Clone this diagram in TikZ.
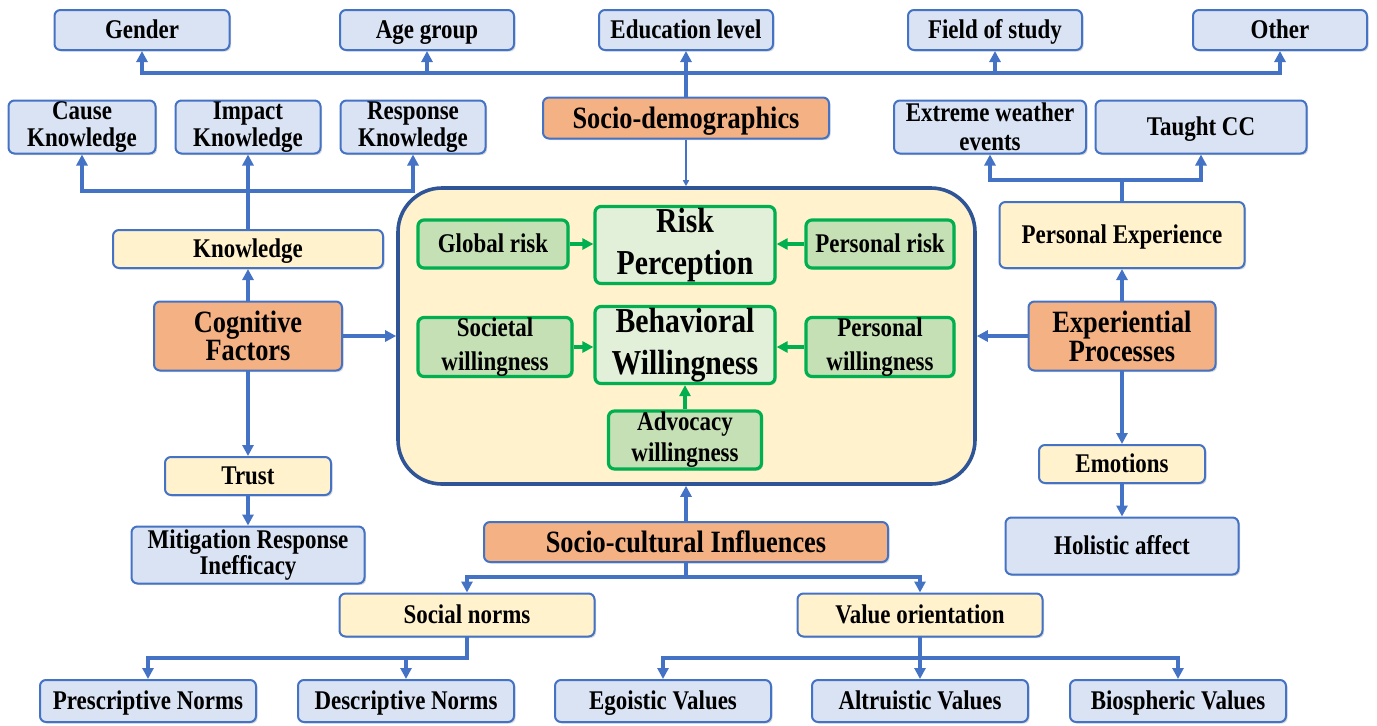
\documentclass[tikz,border=0pt]{standalone}
\usepackage{fontspec}
\setmainfont[FakeStretch=0.85]{Liberation Serif}
\usetikzlibrary{arrows.meta,shadows}
\definecolor{bfill}{HTML}{DAE3F3}
\definecolor{bline}{HTML}{4472C4}
\definecolor{cfill}{HTML}{FFF2CC}
\definecolor{ofill}{HTML}{F4B183}
\definecolor{gfill}{HTML}{C5E0B4}
\definecolor{lgfill}{HTML}{E2F0D9}
\definecolor{gline}{HTML}{00B050}
\definecolor{bigline}{HTML}{2F5597}
\definecolor{arrc}{HTML}{4472C4}
\tikzset{
  base/.style={rounded corners=3pt, align=center, inner sep=0pt, draw=bline, line width=1pt,
    font=\bfseries\fontsize{13.5}{13.5}\selectfont,
    drop shadow={shadow xshift=0.8pt, shadow yshift=-0.8pt, opacity=0.3}},
  oneline/.style={text height=8.9pt, text depth=0pt},
  bluebox/.style={base, fill=bfill},
  creambox/.style={base, fill=cfill},
  orangebox/.style={base, fill=ofill, font=\bfseries\fontsize{15.5}{14}\selectfont},
  greenbox/.style={base, fill=gfill, draw=gline, line width=1.6pt},
  corebox/.style={base, fill=lgfill, draw=gline, line width=1.6pt, font=\bfseries\fontsize{17.5}{21}\selectfont},
  sz/.style 2 args={minimum width=#1*0.5pt, minimum height=#2*0.5pt},
  conn/.style={draw=arrc, line width=1.7pt, line cap=rect},
  arr/.style={conn, -{Triangle[length=5.5pt,width=5.5pt]}},
  garr/.style={draw=gline, line width=1.6pt, -{Triangle[length=5.5pt,width=5.5pt]}},
}
\begin{document}
\begin{tikzpicture}[x=0.5pt,y=-0.5pt]
\useasboundingbox (0,0) rectangle (1377,725);

% big central box
\node[draw=bigline, fill=cfill, line width=1.8pt, rounded corners=22pt, inner sep=0pt, sz={577}{296}] (big) at (686.5,336) {};

% top row
\node[bluebox, oneline, sz={175}{40}] (gender) at (142,30) {Gender};
\node[bluebox, oneline, sz={174}{40}] (age) at (427,30) {Age group};
\node[bluebox, oneline, sz={174}{40}] (edu) at (686,30) {Education level};
\node[bluebox, oneline, sz={174}{40}] (field) at (995,30) {Field of study};
\node[bluebox, oneline, sz={174}{40}] (other) at (1280,30) {Other};
\node[orangebox, oneline, text height=10.2pt, sz={286}{41}] (sd) at (686,118) {Socio-demographics};

% knowledge branch
\node[bluebox, sz={147}{53}] (cause) at (82,127) {Cause\\Knowledge};
\node[bluebox, sz={145}{53}] (impact) at (248,127) {Impact\\Knowledge};
\node[bluebox, sz={145}{53}] (resp) at (413,127) {Response\\Knowledge};
\node[creambox, oneline, sz={270}{38}] (know) at (248,249) {Knowledge};
\node[orangebox, sz={188}{69}] (cog) at (248,336) {Cognitive\\Factors};
\node[creambox, oneline, sz={166}{38}] (trust) at (248,476) {Trust};
\node[bluebox, sz={233}{57}, font=\bfseries\fontsize{13.5}{13}\selectfont] (mit) at (248,555) {Mitigation Response\\Inefficacy};

% inner nodes
\node[greenbox, oneline, sz={150}{48}] (glob) at (493,244) {Global risk};
\node[corebox, sz={180}{77}] (rp) at (685,245) {Risk\\Perception};
\node[greenbox, oneline, sz={148}{48}] (prisk) at (880,244) {Personal risk};
\node[greenbox, sz={154}{59}, font=\bfseries\fontsize{13.5}{17}\selectfont] (soc) at (495,347) {Societal\\willingness};
\node[corebox, sz={180}{77}] (bw) at (685,345) {Behavioral\\Willingness};
\node[greenbox, sz={148}{59}, font=\bfseries\fontsize{13.5}{17}\selectfont] (pwill) at (880,347) {Personal\\willingness};
\node[greenbox, sz={153}{58}, font=\bfseries\fontsize{13.5}{15.5}\selectfont] (adv) at (685,440) {Advocacy\\willingness};

% right branch
\node[bluebox, sz={192}{53}, font=\bfseries\fontsize{13.5}{14.5}\selectfont] (ext) at (990,127) {Extreme weather\\events};
\node[bluebox, oneline, sz={211}{53}] (taught) at (1201,127) {Taught CC};
\node[creambox, oneline, sz={245}{66}] (pexp) at (1122,235) {Personal Experience};
\node[orangebox, sz={187}{69}, font=\bfseries\fontsize{15.5}{14.5}\selectfont] (exp) at (1122,336) {Experiential\\Processes};
\node[creambox, oneline, sz={166}{38}] (emo) at (1122,464) {Emotions};
\node[bluebox, oneline, sz={233}{57}] (hol) at (1122,546) {Holistic affect};

% bottom
\node[orangebox, oneline, text height=10.2pt, sz={404}{40}] (sci) at (686,542) {Socio-cultural Influences};
\node[creambox, oneline, sz={255}{43}] (social) at (467,615) {Social norms};
\node[creambox, oneline, sz={245}{43}] (value) at (920,615) {Value orientation};
\node[bluebox, oneline, sz={216}{42}] (pres) at (148,701) {Prescriptive Norms};
\node[bluebox, oneline, sz={216}{42}] (desc) at (406,701) {Descriptive Norms};
\node[bluebox, oneline, sz={216}{42}] (ego) at (663,701) {Egoistic Values};
\node[bluebox, oneline, sz={216}{42}] (alt) at (920,701) {Altruistic Values};
\node[bluebox, oneline, sz={216}{42}] (bio) at (1178,701) {Biospheric Values};

% top connectors
\coordinate (tl) at (142,73);
\coordinate (tr) at (1280,73);
\draw[conn] (tl) -- (tr);
\draw[arr] (sd.north) -- (edu.south);
\foreach \n in {gender,age,field,other} \draw[arr] (\n.south |- tl) -- (\n.south);
\draw[draw=arrc, line width=0.75pt, -{Triangle[length=3pt,width=3pt]}] (sd.south) -- (sd.south |- big.north);

% knowledge connectors
\coordinate (kl) at (82,191);
\coordinate (kr) at (413,191);
\draw[conn] (kl) -- (kr);
\draw[arr] (know.north) -- (impact.south);
\draw[arr] (kl) -- (cause.south);
\draw[arr] (kr) -- (resp.south);
\draw[arr] (cog.north) -- (know.south);
\draw[arr] (cog.east) -- (big.west |- cog.east);
\draw[arr] (cog.south) -- (trust.north);
\draw[arr] (trust.south) -- (mit.north);

% inner green arrows
\draw[garr] (glob.east) -- (rp.west |- glob.east);
\draw[garr] (prisk.west) -- (rp.east |- prisk.west);
\draw[garr] (soc.east) -- (bw.west |- soc.east);
\draw[garr] (pwill.west) -- (bw.east |- pwill.west);
\draw[garr] (adv.north) -- (bw.south);

% right connectors
\coordinate (el) at (990,180);
\coordinate (er) at (1201,180);
\draw[conn] (el) -- (er);
\draw[conn] (pexp.north) -- (pexp.north |- el);
\draw[arr] (el) -- (ext.south);
\draw[arr] (er) -- (taught.south);
\draw[arr] (exp.north) -- (pexp.south);
\draw[arr] (exp.west) -- (big.east |- exp.west);
\draw[arr] (exp.south) -- (emo.north);
\draw[arr] (emo.south) -- (hol.north);

% bottom connectors
\draw[arr] (sci.north) -- (sci.north |- big.south);
\coordinate (sl) at (467,577);
\coordinate (sr) at (920,577);
\draw[conn] (sci.south) -- (sci.south |- sl);
\draw[conn] (sl) -- (sr);
\draw[arr] (sl) -- (social.north);
\draw[arr] (sr) -- (value.north);

\coordinate (nl) at (148,658);
\coordinate (nr) at (467,658);
\draw[conn] (social.south) -- (nr) -- (nl);
\draw[arr] (nl) -- (pres.north);
\draw[arr] (desc.north |- nl) -- (desc.north);

\coordinate (vl) at (663,658);
\coordinate (vr) at (1178,658);
\draw[conn] (value.south) -- (value.south |- vl);
\draw[conn] (vl) -- (vr);
\draw[arr] (vl) -- (ego.north);
\draw[arr] (alt.north |- vl) -- (alt.north);
\draw[arr] (vr) -- (bio.north);
\end{tikzpicture}
\end{document}
